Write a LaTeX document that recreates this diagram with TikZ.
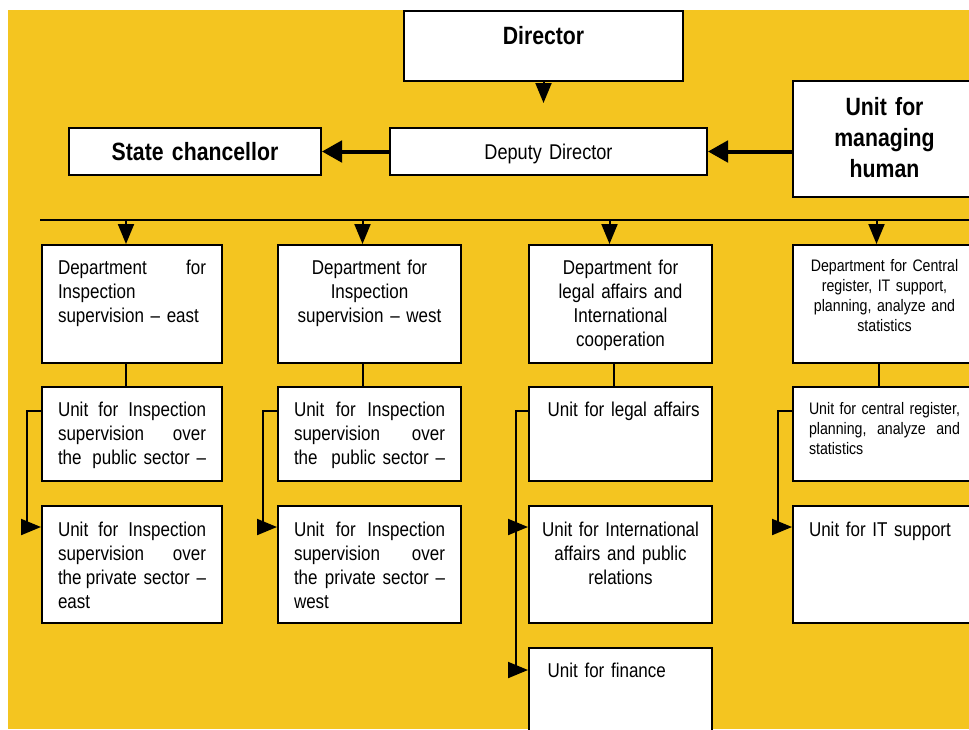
\documentclass[tikz,border=0pt]{standalone}
\usepackage{fontspec}
\setmainfont{Liberation Sans}[FakeStretch=0.85]
\usetikzlibrary{positioning,arrows.meta}
\definecolor{chartyellow}{RGB}{244,197,32}

\begin{document}
\begin{tikzpicture}
[x=0.75pt, y=-0.75pt, node distance=17.25pt,
box/.style={draw, fill=white, line width=1.5pt, inner sep=0pt, anchor=north west},
big/.style={font=\fontsize{18.75pt}{23.25pt}\selectfont\bfseries, align=center},
txt/.style={font=\fontsize{15pt}{18pt}\selectfont},
small/.style={font=\fontsize{12.5pt}{15pt}\selectfont},
dept/.style={box, txt, align=center, text width=137.25pt, text height=21.75pt, text depth=66.75pt},
unit/.style={box, txt, align=left, inner xsep=12pt, text width=113.25pt, text height=21.75pt, text depth=48.75pt},
row2/.style={text height=22.5pt, text depth=65.25pt},
arr/.style={-{Triangle[length=15pt,width=12pt]}, line width=1.5pt},
fatarr/.style={-{Triangle[length=15pt,width=16pt]}, line width=3pt}]

\useasboundingbox (0,0) rectangle (969,729);
\clip (0,0) rectangle (969,729);
\fill[chartyellow] (8,10) rectangle (969,729);

\node[box, big, text width=209.25pt, text height=24.75pt, text depth=27.75pt] (dir) at (403,10) {Director};
\node[box, font=\fontsize{16pt}{19pt}\selectfont, align=center, text width=237.75pt, text height=23.25pt, text depth=12pt] (dep) at (389,127) {Deputy Director};
\node[box, big, text width=189pt, text height=24pt, text depth=11.25pt] (sc) at (68,127) {State chancellor};
\node[box, big, text width=137.25pt, text height=25.5pt, text depth=61.5pt] (hr) at (792,80) {Unit for\\ managing\\ human};

% departments
\node[dept, align=left, inner xsep=12pt, text width=111pt] (d1) at (41,244) {Department\hfill for\\ Inspection\\ supervision -- east};
\node[dept] (d2) at (277,244) {Department for\\ Inspection\\ supervision -- west};
\node[dept] (d3) at (528,244) {Department for\\ legal affairs and\\ International\\ cooperation};
\node[dept, small, text height=19.5pt, text depth=69pt] (d4) at (792,244) {Department for Central\\ register, IT support,\\ planning, analyze and\\ statistics};

% units
\node[unit, text width=111pt, below=16.5pt of d1] (u11) {Unit\hfill for\hfill Inspection\\ supervision\hfill over\\ the\hfill public sector --};
\node[unit, row2, text width=111pt, below=of u11] (u12) {Unit\hfill for\hfill Inspection\\ supervision\hfill over\\ the\hfill private sector --\\ east};
\node[unit, below=16.5pt of d2] (u21) {Unit\hfill for\hfill Inspection\\ supervision\hfill over\\ the\hfill public sector --};
\node[unit, row2, below=of u21] (u22) {Unit\hfill for\hfill Inspection\\ supervision\hfill over\\ the\hfill private sector --\\ west};
\node[unit, inner xsep=6pt, text width=125.25pt, below=16.5pt of d3] (u31) {\hspace*{8pt}Unit for legal affairs};
\node[unit, row2, align=center, inner xsep=6pt, text width=125.25pt, below=of u31] (u32) {Unit for International\\ affairs and public\\ relations};
\node[unit, inner xsep=6pt, text width=125.25pt, text depth=53.25pt, below=of u32] (u33) {\hspace*{8pt}Unit for finance};
\node[unit, small, text height=20.25pt, text depth=50.25pt, below=16.5pt of d4] (u41) {Unit\hfill for\hfill central\hfill register,\\ planning,\hfill analyze\hfill and\\ statistics};
\node[unit, row2, below=of u41] (u42) {Unit for IT support};

\draw[arr, shorten >=18pt] (dir) -- (dir |- dep.north);
\draw[fatarr] (dep) -- (sc);
\draw[fatarr] (hr.west |- dep) -- (dep);

\coordinate (bus) at (40,220);
\coordinate (busend) at (975,220);
\draw[line width=2pt] (bus) -- (busend);
\foreach \d/\s in {d1/-6,d2/-7,d3/-11,d4/-8}
  \draw[arr] ([shift={(\s,0)}]\d.north |- bus) -- ([shift={(\s,0)}]\d.north);

\foreach \d/\u/\s in {d1/u11/-6,d2/u21/-7,d3/u31/-7,d4/u41/-6}
  \draw[line width=1.5pt] ([shift={(\s,0)}]\d.south) -- ([shift={(\s,0)}]\u.north);

\foreach \a/\b in {u11/u12,u21/u22,u41/u42}
  \draw[arr] ([shift={(0,25)}]\a.north west) -- ++(-14,0) |- ([shift={(0,22)}]\b.north west);
\draw[arr] ([shift={(0,25)}]u31.north west) -- ++(-12,0) coordinate (c3) |- ([shift={(0,22)}]u32.north west);
\draw[arr] (c3) |- ([shift={(0,23)}]u33.north west);
\end{tikzpicture}
\end{document}
